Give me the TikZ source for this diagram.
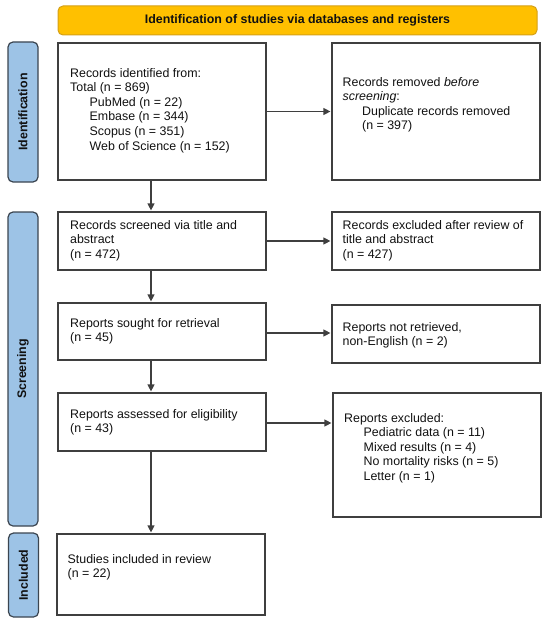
\documentclass[tikz,border=0pt]{standalone}
\usepackage{fontspec}
\setmainfont{Liberation Sans}
\usetikzlibrary{arrows.meta}
\definecolor{bannerfill}{HTML}{FFC000}
\definecolor{bannerdraw}{HTML}{D4A017}
\definecolor{sidefill}{HTML}{9DC3E6}
\definecolor{sidedraw}{HTML}{3B4550}
\definecolor{boxdraw}{HTML}{3F3F3F}
\definecolor{txtcol}{HTML}{111111}
\newcommand{\ind}{\hspace*{19.5pt}}
\begin{document}
\begin{tikzpicture}[x=1pt,y=-1pt,
  every node/.style={font=\fontsize{12.4}{14.6}\selectfont, text=txtcol},
  flowbox/.style={draw=boxdraw, line width=1.2pt, inner sep=0pt, fill=white},
  boxtext/.style={anchor=north west, inner sep=0pt, align=left},
  banner/.style={draw=bannerdraw, line width=1pt, fill=bannerfill, rounded corners=5pt, inner sep=0pt, font=\fontsize{12.4}{14.6}\selectfont\bfseries},
  sidelabel/.style={draw=sidedraw, line width=1.2pt, fill=sidefill, rounded corners=5pt, inner sep=0pt, rotate=90, minimum height=30pt, font=\fontsize{12.4}{14.6}\selectfont\bfseries},
  arr/.style={draw=boxdraw, line width=1.2pt, -{Triangle[length=7pt,width=7pt]}, shorten >=1pt}
]
\useasboundingbox (0,0) rectangle (550,623);

% banner
\node[banner, minimum width=479pt, minimum height=29pt] (ban) at (297.5,20.5) {Identification of studies via databases and registers};

% side labels
\node[sidelabel, minimum width=140pt] (sid) at (23,112) {Identification};
\node[sidelabel, minimum width=314pt] (sscr) at (23,369) {Screening};
\node[sidelabel, minimum width=84pt] (sinc) at (23.5,575) {Included};

% boxes
\node[flowbox, minimum width=208pt, minimum height=137pt] (b1) at (162,111.5) {};
\node[flowbox, minimum width=208pt, minimum height=137pt] (b2) at (436,111.5) {};
\node[flowbox, minimum width=208pt, minimum height=58pt] (b3) at (162,241) {};
\node[flowbox, minimum width=208pt, minimum height=58pt] (b4) at (436,241) {};
\node[flowbox, minimum width=208pt, minimum height=57pt] (b5) at (162,331.5) {};
\node[flowbox, minimum width=208pt, minimum height=58pt] (b6) at (436,334) {};
\node[flowbox, minimum width=208pt, minimum height=58pt] (b7) at (162,422) {};
\node[flowbox, minimum width=208pt, minimum height=124pt] (b8) at (437,455) {};
\node[flowbox, minimum width=208pt, minimum height=81pt] (b9) at (161,574.5) {};

% texts
\node[boxtext] (t1) at (70,68) {Records identified from:\\Total (n = 869)\\\ind PubMed (n = 22)\\\ind Embase (n = 344)\\\ind Scopus (n = 351)\\\ind Web of Science (n = 152)};
\node[boxtext] (t2) at (342.5,77) {Records removed \textit{before}\\\textit{screening}:\\\ind Duplicate records removed\\\ind (n = 397)};
\node[boxtext] (t3) at (70,220) {Records screened via title and\\abstract\\(n = 472)};
\node[boxtext] (t4) at (342.5,220) {Records excluded after review of\\title and abstract\\(n = 427)};
\node[boxtext] (t5) at (70,318) {Reports sought for retrieval\\(n = 45)};
\node[boxtext] (t6) at (342.5,322) {Reports not retrieved,\\non-English (n = 2)};
\node[boxtext] (t7) at (70,409) {Reports assessed for eligibility\\(n = 43)};
\node[boxtext] (t8) at (344,413) {Reports excluded:\\\ind Pediatric data (n = 11)\\\ind Mixed results (n = 4)\\\ind No mortality risks (n = 5)\\\ind Letter (n = 1)};
\node[boxtext] (t9) at (67.5,554) {Studies included in review\\(n = 22)};

% connectors
\coordinate (ax) at (151,0);
\draw[arr] (b1.south -| ax) -- (b3.north -| ax);
\draw[arr] (b3.south -| ax) -- (b5.north -| ax);
\draw[arr] (b5.south -| ax) -- (b7.north -| ax);
\draw[arr] (b7.south -| ax) -- (b9.north -| ax);
\draw[arr] (b1.east) -- (b1.east -| b2.west);
\draw[arr] (b3.east) -- (b3.east -| b4.west);
\draw[arr] ([yshift=-1.5pt]b5.east) -- ([yshift=-1.5pt]b5.east -| b6.west);
\draw[arr] ([yshift=-1pt]b7.east) -- ([yshift=-1pt]b7.east -| b8.west);
\end{tikzpicture}
\end{document}
